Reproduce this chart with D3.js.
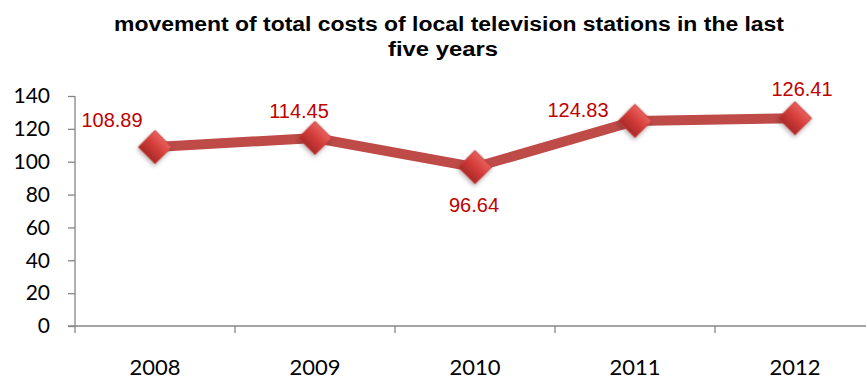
<!DOCTYPE html>
<html><head><meta charset="utf-8">
<script src="https://cdn.jsdelivr.net/npm/d3@7"></script>
<style>html,body{margin:0;padding:0;background:#fff;}</style>
</head><body>
<svg id="c" width="866" height="381"></svg>
<script>
const years = ["2008","2009","2010","2011","2012"];
const costs = [108.89, 114.45, 96.64, 124.83, 126.41];
const yTicks = [0,20,40,60,80,100,120,140];
const titleLines = ["movement of total costs of local television stations  in the last", "five years"];

const svg = d3.select("#c");
const x = d3.scaleBand().domain(years).range([75, 875]);
const y = d3.scaleLinear().domain([0, 140]).range([326, 96]);

const defs = svg.append("defs");
const g = defs.append("linearGradient").attr("id","dg").attr("x1","0").attr("y1","0").attr("x2","0").attr("y2","1");
g.append("stop").attr("offset","0").attr("stop-color","#e8605c");
g.append("stop").attr("offset","0.5").attr("stop-color","#d23c39");
g.append("stop").attr("offset","1").attr("stop-color","#a82a28");
const f = defs.append("filter").attr("id","sh").attr("x","-50%").attr("y","-50%").attr("width","200%").attr("height","200%");
f.append("feDropShadow").attr("dx",1).attr("dy",2).attr("stdDeviation",2).attr("flood-color","#000").attr("flood-opacity",0.3);

// title
const tW = [670, 110];
const tX = [449, 443];
svg.append("g").selectAll("text").data(titleLines).join("text")
  .attr("x", (d,i)=>tX[i]).attr("y", (d,i)=>31+i*25)
  .attr("text-anchor","middle")
  .attr("font-family","Liberation Sans, Arial, sans-serif")
  .attr("font-weight","bold").attr("font-size",20)
  .attr("textLength",(d,i)=>tW[i]).attr("lengthAdjust","spacingAndGlyphs")
  .attr("fill","#000").text(d=>d);

// y axis
const ya = svg.append("g").attr("transform","translate(75,0)")
  .call(d3.axisLeft(y).tickValues(yTicks).tickSize(7).tickPadding(18));
ya.select(".domain").attr("stroke","#868686").attr("stroke-width",1.3).attr("d","M0,96V326");
ya.selectAll(".tick line").attr("stroke","#868686").attr("stroke-width",1.3);
ya.selectAll(".tick text").attr("font-family","Lato, Open Sans, sans-serif").attr("font-size",21).attr("fill","#000");

// x axis
const xa = svg.append("g").attr("transform","translate(0,326)")
  .call(d3.axisBottom(x).tickSize(0).tickPadding(36));
xa.select(".domain").attr("stroke","#868686").attr("stroke-width",1.3).attr("d","M68,0H866");
xa.selectAll(".tick text").attr("font-family","Lato, Open Sans, sans-serif").attr("font-size",22).attr("fill","#000")
  .attr("dy",null).attr("y",49);
svg.append("g").selectAll("line").data(years).join("line")
  .attr("x1", d=>x(d)).attr("x2", d=>x(d)).attr("y1",326).attr("y2",333)
  .attr("stroke","#868686").attr("stroke-width",1.3);

// line
const data = years.map((d,i)=>({year:d, v:costs[i]}));
svg.append("path").datum(data)
  .attr("d", d3.line().x(d=>x(d.year)+x.bandwidth()/2).y(d=>y(d.v)))
  .attr("fill","none").attr("stroke","#be4b48").attr("stroke-width",10);

// markers
svg.append("g").selectAll("path").data(data).join("path")
  .attr("transform", d=>`translate(${x(d.year)+x.bandwidth()/2},${y(d.v)}) rotate(45)`)
  .attr("d", d3.symbol().type(d3.symbolSquare).size(560))
  .attr("fill","url(#dg)").attr("stroke","#c0403d").attr("stroke-width",0.8)
  .attr("filter","url(#sh)");

// labels
const offs = [[-43,-20],[-16,-20],[-1,45],[-57,-4],[7,-22]];
svg.append("g").selectAll("text").data(data).join("text")
  .attr("x", (d,i)=>x(d.year)+x.bandwidth()/2+offs[i][0])
  .attr("y", (d,i)=>y(d.v)+offs[i][1])
  .attr("text-anchor","middle")
  .attr("font-family","Liberation Sans, Arial, sans-serif")
  .attr("font-size",20).attr("fill","#c00000")
  .text(d=>d.v.toFixed(2));
</script>
</body></html>
